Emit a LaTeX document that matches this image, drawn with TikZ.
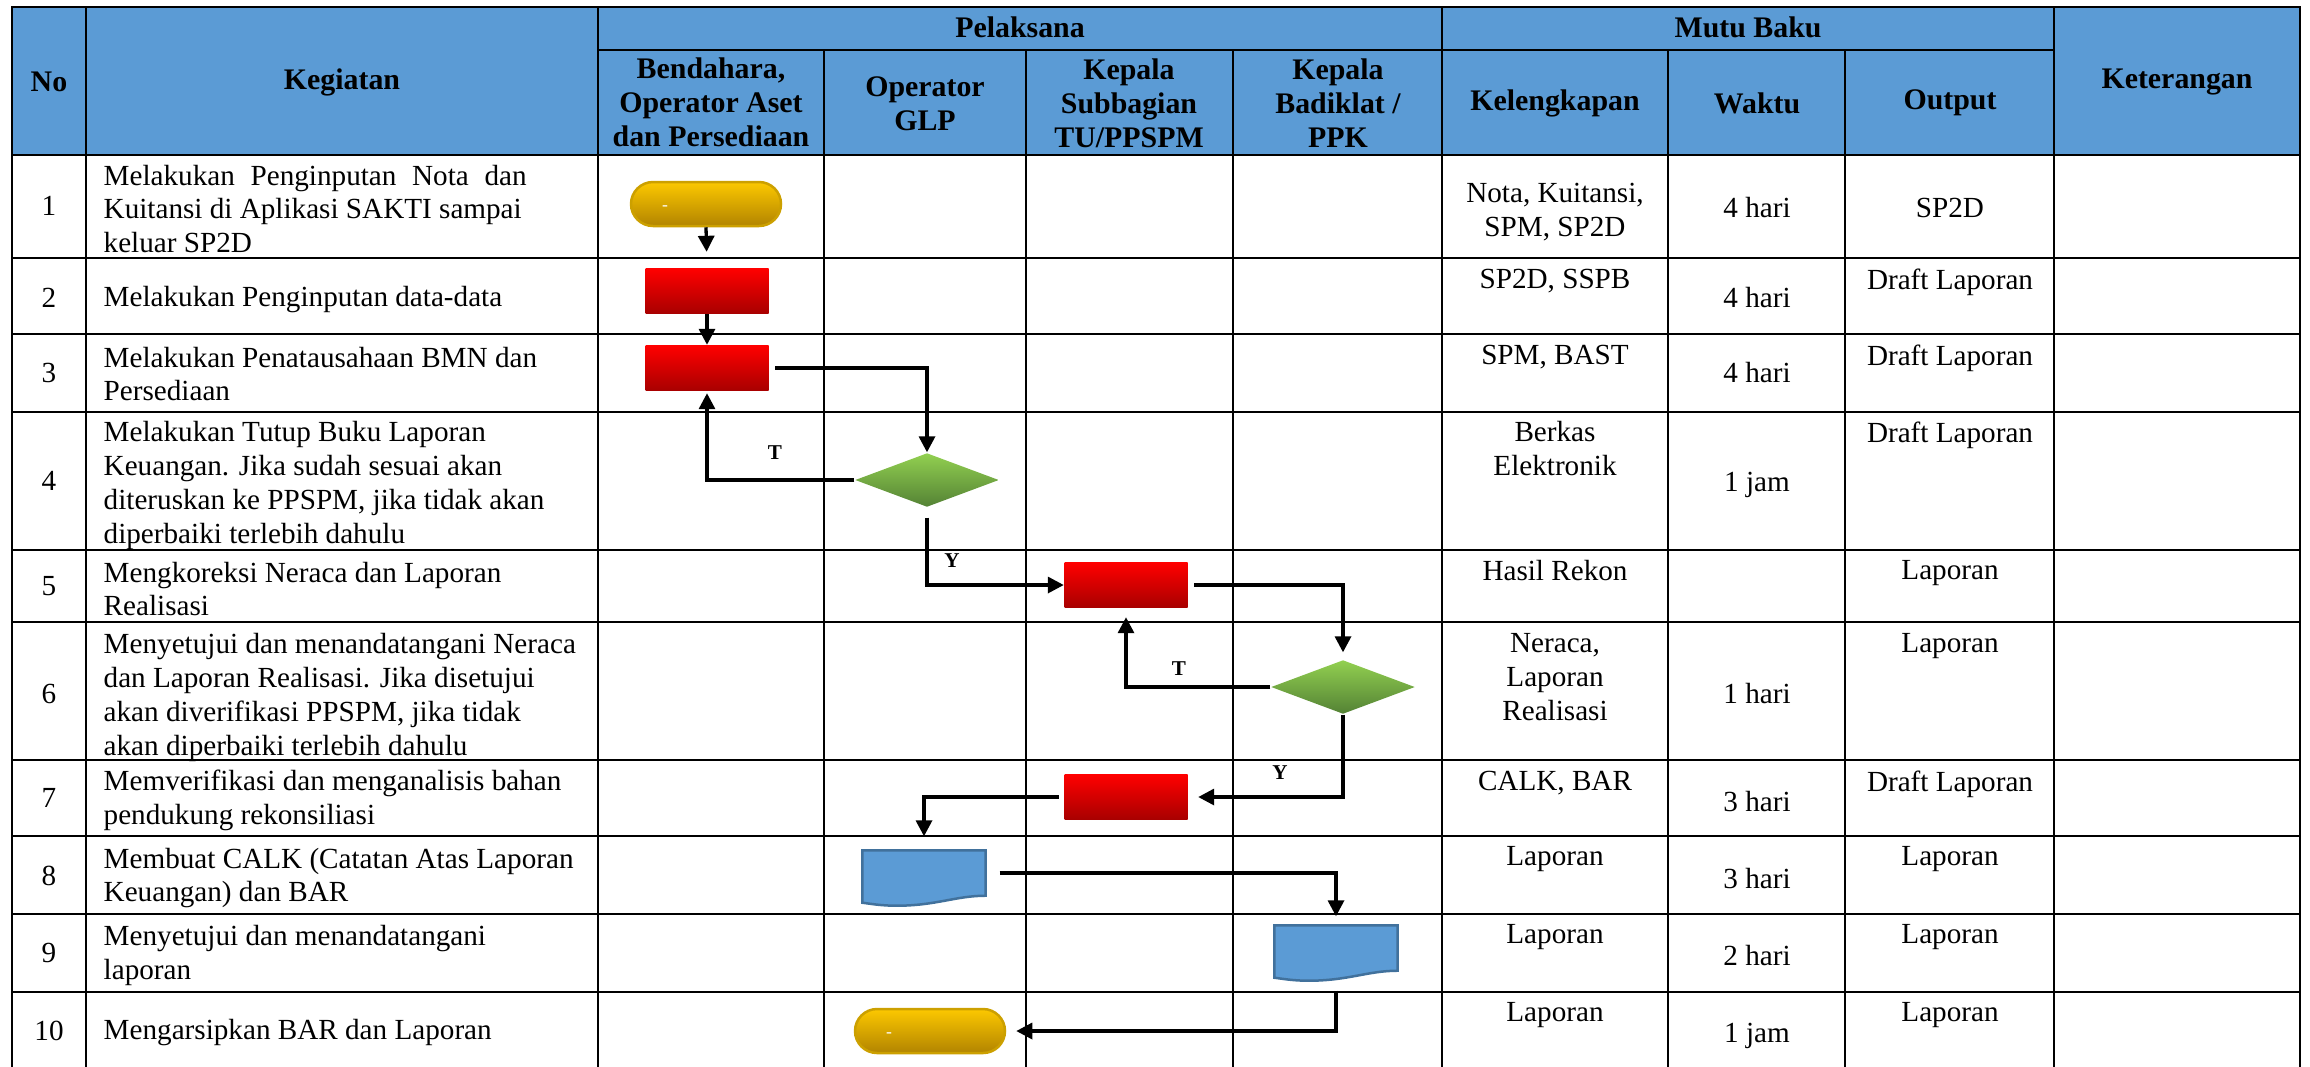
\documentclass[tikz,border=0pt]{standalone}
\usepackage{fontspec}
\setmainfont{Liberation Serif}
\usetikzlibrary{arrows.meta, shapes.geometric}
\tikzset{>={Triangle[length=1.6mm, width=1.6mm]}}

\definecolor{hdrblue}{RGB}{91,155,213}
\definecolor{termtop}{RGB}{252,200,0}
\definecolor{termbot}{RGB}{178,132,0}
\definecolor{termline}{RGB}{204,160,0}
\definecolor{proctop}{RGB}{255,0,0}
\definecolor{procbot}{RGB}{168,0,0}
\definecolor{dectop}{RGB}{146,208,80}
\definecolor{decbot}{RGB}{84,130,53}
\definecolor{docfill}{RGB}{91,155,213}
\definecolor{docline}{RGB}{65,113,156}

% wavy bottom of a document node
\newcommand{\docwave}[1]{%
  \draw[docedge] (#1.north west) -- (#1.north east) -- (#1.south east)
    .. controls +(-30,0) and +(40,0) .. ([shift={(34,10)}]#1.south west)
    .. controls +(-15,0) and +(8,1) .. ([shift={(0,7)}]#1.south west) -- cycle;}

\begin{document}
\begin{tikzpicture}[x=0.1mm, y=-0.1mm,
  grid/.style={line width=0.28mm, line cap=rect},
  cell/.style={inner sep=0pt, font=\fontsize{8.3}{9.67}\selectfont},
  hdr/.style={cell, align=center, font=\fontsize{8.5}{9.67}\selectfont\bfseries},
  keg/.style={cell, anchor=west, align=left},
  topcell/.style={cell, anchor=north, align=center},
  terminal/.style={rectangle, rounded corners=2.2mm, minimum width=15mm, minimum height=4.4mm,
    top color=termtop, bottom color=termbot, draw=termline, line width=0.25mm,
    label={[text=white, font=\fontsize{5}{6}\selectfont, xshift=-4.1mm, yshift=-0.4mm]center:-}},
  process/.style={rectangle, minimum width=12.3mm, minimum height=4.5mm, inner sep=0pt,
    top color=proctop, bottom color=procbot},
  decision/.style={diamond, minimum width=14.4mm, minimum height=5.4mm, inner sep=0pt,
    top color=dectop, bottom color=decbot},
  docbox/.style={rectangle, minimum width=12.2mm, minimum height=4.4mm, inner sep=0pt},
  docedge/.style={fill=docfill, draw=docline, line width=0.25mm},
  flow/.style={->, line width=0.33mm},
  yn/.style={inner sep=0pt, font=\fontsize{6}{7}\selectfont\bfseries}]

\useasboundingbox (0,0) rectangle (2310,1066);

% header
\fill[hdrblue] (12,7) rectangle (2300,155);
\draw[grid] (12,7) -- (2300,7);
\draw[grid] (598,50) -- (2054,50);
\foreach \y in {155,258,334,412,550,622,760,836,914,992}
  \draw[grid] (12,\y) -- (2300,\y);
\foreach \x in {12,86,598,1442,2054,2300}
  \draw[grid] (\x,7) -- (\x,1066);
\foreach \x in {824,1026,1233,1668,1845}
  \draw[grid] (\x,50) -- (\x,1066);

\node[hdr] (hNo) at (49,82) {No};
\node[hdr] (hKeg) at (342,82) {Kegiatan};
\node[hdr] (hPel) at (1020,27) {Pelaksana};
\node[hdr] (hMutu) at (1748,27) {Mutu Baku};
\node[hdr] (hKet) at (2177,82) {Keterangan};
\node[hdr] (hBen) at (711,102) {Bendahara,\\Operator Aset\\dan Persediaan};
\node[hdr] (hOp) at (925,104) {Operator\\GLP};
\node[hdr] (hKs) at (1129,103) {Kepala\\Subbagian\\TU/PPSPM};
\node[hdr] (hKb) at (1338,103) {Kepala\\Badiklat /\\PPK};
\node[hdr] (hKel) at (1555,103) {Kelengkapan};
\node[hdr] (hWak) at (1757,103) {Waktu};
\node[hdr] (hOut) at (1950,103) {Output};

% rows
\foreach \n/\y in {1/206,2/298,3/373,4/481,5/586,6/694,7/798,8/876,9/953,10/1031}
  \node[cell] (no\n) at (49,\y) {\n};

\node[keg] (k1) at (103,209) {\makebox[42.3mm][s]{Melakukan Penginputan Nota dan}\\Kuitansi di Aplikasi SAKTI sampai\\keluar SP2D};
\node[keg] (k2) at (103,300) {Melakukan Penginputan data-data};
\node[keg] (k3) at (103,374) {Melakukan Penatausahaan BMN dan\\Persediaan};
\node[keg] (k4) at (103,485) {Melakukan Tutup Buku Laporan\\Keuangan. Jika sudah sesuai akan\\diteruskan ke PPSPM, jika tidak akan\\diperbaiki terlebih dahulu};
\node[keg] (k5) at (103,589) {Mengkoreksi Neraca dan Laporan\\Realisasi};
\node[keg] (k6) at (103,697) {Menyetujui dan menandatangani Neraca\\dan Laporan Realisasi. Jika disetujui\\akan diverifikasi PPSPM, jika tidak\\akan diperbaiki terlebih dahulu};
\node[keg] (k7) at (103,800) {Memverifikasi dan menganalisis bahan\\pendukung rekonsiliasi};
\node[keg] (k8) at (103,878) {Membuat CALK (Catatan Atas Laporan\\Keuangan) dan BAR};
\node[keg] (k9) at (103,955) {Menyetujui dan menandatangani\\laporan};
\node[keg] (k10) at (103,1033) {Mengarsipkan BAR dan Laporan};

\node[topcell] (kel1) at (1555,182) {Nota, Kuitansi,\\SPM, SP2D};
\node[topcell] (kel2) at (1555,268) {SP2D, SSPB};
\node[topcell] (kel3) at (1555,344) {SPM, BAST};
\node[topcell] (kel4) at (1555,421) {Berkas\\Elektronik};
\node[topcell] (kel5) at (1555,560) {Hasil Rekon};
\node[topcell] (kel6) at (1555,633) {Neraca,\\Laporan\\Realisasi};
\node[topcell] (kel7) at (1555,770) {CALK, BAR};
\node[topcell] (kel8) at (1555,846) {Laporan};
\node[topcell] (kel9) at (1555,924) {Laporan};
\node[topcell] (kel10) at (1555,1002) {Laporan};

\node[cell] (wak1) at (1757,208) {4 hari};
\node[cell] (wak2) at (1757,298) {4 hari};
\node[cell] (wak3) at (1757,373) {4 hari};
\node[cell] (wak4) at (1757,485) {1 jam};
\node[cell] (wak6) at (1757,694) {1 hari};
\node[cell] (wak7) at (1757,801) {3 hari};
\node[cell] (wak8) at (1757,878) {3 hari};
\node[cell] (wak9) at (1757,955) {2 hari};
\node[cell] (wak10) at (1757,1036) {1 jam};

\node[cell] (out1) at (1950,208) {SP2D};
\node[topcell] (out2) at (1950,268) {Draft Laporan};
\node[topcell] (out3) at (1950,344) {Draft Laporan};
\node[topcell] (out4) at (1950,421) {Draft Laporan};
\node[topcell] (out5) at (1950,560) {Laporan};
\node[topcell] (out6) at (1950,633) {Laporan};
\node[topcell] (out7) at (1950,770) {Draft Laporan};
\node[topcell] (out8) at (1950,846) {Laporan};
\node[topcell] (out9) at (1950,924) {Laporan};
\node[topcell] (out10) at (1950,1002) {Laporan};

% flow
\node[terminal] (t1) at (706,204) {};
\node[process] (r1) at (707,291) {};
\node[process] (r2) at (707,368) {};
\node[decision] (d1) at (927,480) {};
\node[process] (r3) at (1126,585) {};
\node[decision] (d2) at (1343,687) {};
\node[process] (r4) at (1126,797) {};
\node[docbox] (doc1) at (924,873) {};
\node[docbox] (doc2) at (1336,948) {};
\node[terminal] (t2) at (930,1031) {};
\docwave{doc1}
\docwave{doc2}

\draw[flow, shorten >=1.6mm] (t1.south) -- (r1.north);
\draw[flow] (r1.south) -- (r2.north);
\draw[flow, shorten <=0.6mm] (r2.east) -| (d1.north);
\draw[flow, shorten >=0.2mm] (d1.west) -| (r2.south);
\draw[flow, shorten <=1mm] (d1.south) |- (r3.west);
\draw[flow, shorten <=0.6mm, shorten >=0.7mm] (r3.east) -| (d2.north);
\draw[flow, shorten >=0.9mm] (d2.west) -| (r3.south);
\draw[flow, shorten >=1mm] (d2.south) |- (r4.east);
\draw[flow, shorten <=0.5mm, shorten >=1.4mm] (r4.west) -| (doc1.north);
\draw[flow, shorten <=1.4mm, shorten >=0.9mm] (doc1.east) -| (doc2.north);
\draw[flow, shorten <=2mm, shorten >=1mm] (doc2.south) |- (t2.east);

\node[yn] (tA) at (775,453) {T};
\node[yn] (yA) at (952,561) {Y};
\node[yn] (tB) at (1179,669) {T};
\node[yn] (yB) at (1280,773) {Y};
\end{tikzpicture}
\end{document}
